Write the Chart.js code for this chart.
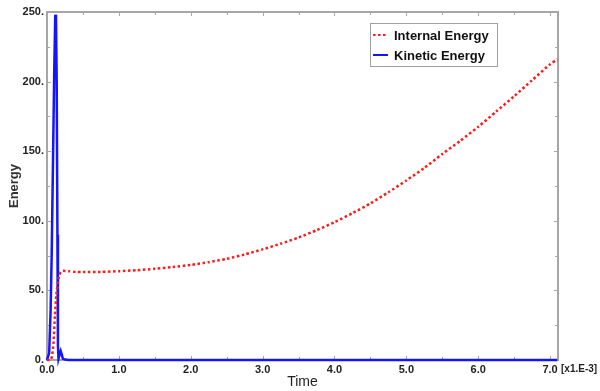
<!DOCTYPE html>
<html>
<head>
<meta charset="utf-8">
<script src="https://cdn.jsdelivr.net/npm/chart.js@4/dist/chart.umd.min.js"></script>
<style>
  html, body { margin: 0; padding: 0; background: #ffffff; }
  #wrap { position: relative; width: 600px; height: 391px; }
</style>
</head>
<body>
<div id="wrap"><canvas id="c" width="600" height="391"></canvas></div>
<script>
// ---- data (time in units of 1e-3) ----
const timeInternal = [0, 0.05, 0.07, 0.09, 0.11, 0.13, 0.15, 0.17, 0.19, 0.22, 0.3, 0.4, 0.5, 0.75, 1.0, 1.25, 1.5, 1.75, 2.0, 2.25, 2.5, 2.75, 3.0, 3.25, 3.5, 3.75, 4.0, 4.25, 4.5, 4.75, 5.0, 5.25, 5.5, 5.75, 6.0, 6.25, 6.5, 6.75, 7.0, 7.1];
const internalEnergy = [0, 0, 3, 12, 32, 47, 55, 61, 63, 64, 63.8, 63.3, 63.2, 63.3, 63.8, 64.5, 65.5, 66.8, 68.3, 70.3, 72.7, 75.8, 79.5, 83.5, 88, 93.2, 99, 105.5, 112.5, 120.5, 129, 138, 148, 157.5, 167.5, 178.5, 189.5, 201, 212.5, 216];
const timeKinetic = [0, 0.01, 0.03, 0.05, 0.065, 0.08, 0.10, 0.115, 0.125, 0.135, 0.145, 0.152, 0.16, 0.175, 0.19, 0.205, 0.22, 0.25, 0.3, 1, 2, 3, 4, 5, 6, 7, 7.1];
const kineticEnergy = [0, 0, 5, 35, 75, 130, 205, 248, 245, 200, 90, 10, 1, 4, 6.5, 4, 1, 0.3, 0, 0, 0, 0, 0, 0, 0, 0, 0];
const xTickLabels = ['0.0', '1.0', '2.0', '3.0', '4.0', '5.0', '6.0', '7.0'];
const yTickLabels = ['0.', '50.', '100.', '150.', '200.', '250.'];
const seriesNames = ['Internal Energy', 'Kinetic Energy'];

const AXIS_GRAY = '#a6a6a6';
const X_MAX = 7.11;

const toPoints = (xs, ys) => xs.map((x, i) => ({ x: x, y: ys[i] }));

const framePlugin = {
  id: 'frame',
  beforeDatasetsDraw(chart) {
    const { ctx, chartArea: a, scales } = chart;
    const xs = scales.x, ys = scales.y;
    ctx.save();
    ctx.strokeStyle = AXIS_GRAY;
    ctx.lineWidth = 1;
    for (let v = 0; v <= 7.0001; v += 0.5) {
      const px = Math.round(xs.getPixelForValue(v)) + 0.5;
      const len = (Math.abs(v - Math.round(v)) < 1e-6) ? 4 : 3;
      ctx.beginPath();
      ctx.moveTo(px, a.bottom); ctx.lineTo(px, a.bottom - len);
      ctx.moveTo(px, a.top); ctx.lineTo(px, a.top + len);
      ctx.stroke();
    }
    for (let v = 0; v <= 250; v += 25) {
      const py = Math.round(ys.getPixelForValue(v)) + 0.5;
      const len = (v % 50 === 0) ? 4 : 3;
      ctx.beginPath();
      ctx.moveTo(a.left, py); ctx.lineTo(a.left + len, py);
      ctx.moveTo(a.right, py); ctx.lineTo(a.right - len, py);
      ctx.stroke();
    }
    ctx.lineWidth = 2;
    ctx.strokeRect(a.left, a.top, a.right - a.left, a.bottom - a.top);
    ctx.restore();
  },
  afterDraw(chart) {
    const { ctx, chartArea: a } = chart;
    ctx.save();
    ctx.fillStyle = '#222';
    ctx.font = 'bold 10px "Liberation Sans", Arial, sans-serif';
    ctx.textBaseline = 'middle';
    ctx.textAlign = 'left';
    ctx.fillText('[x1.E-3]', a.right + 3, a.bottom + 9);
    // legend
    const bx = 370, by = 23, bw = 127, bh = 43;
    ctx.fillStyle = '#ffffff';
    ctx.fillRect(bx, by, bw, bh);
    ctx.strokeStyle = '#a0a0a0';
    ctx.lineWidth = 1;
    ctx.strokeRect(bx + 0.5, by + 0.5, bw, bh);
    const rows = [35, 55];
    chart.data.datasets.forEach((ds, i) => {
      const y = rows[i];
      ctx.beginPath();
      ctx.strokeStyle = ds.borderColor;
      ctx.lineWidth = 2;
      ctx.setLineDash(ds.borderDash || []);
      ctx.moveTo(373, y); ctx.lineTo(388, y);
      ctx.stroke();
      ctx.setLineDash([]);
      ctx.fillStyle = '#111';
      ctx.font = 'bold 13px "Liberation Sans", Arial, sans-serif';
      ctx.textAlign = 'left';
      ctx.textBaseline = 'middle';
      ctx.fillText(ds.label, 394, y + 1);
    });
    ctx.restore();
  }
};

new Chart(document.getElementById('c'), {
  type: 'scatter',
  data: {
    datasets: [
      {
        label: seriesNames[0],
        data: toPoints(timeInternal, internalEnergy),
        showLine: true,
        borderColor: '#ff1a1a',
        backgroundColor: '#ff1a1a',
        borderWidth: 2.5,
        borderDash: [2.5, 2.5],
        pointRadius: 0,
        tension: 0.2,
        clip: false
      },
      {
        label: seriesNames[1],
        data: toPoints(timeKinetic, kineticEnergy),
        showLine: true,
        borderColor: '#1414ff',
        backgroundColor: '#1414ff',
        borderWidth: 2.5,
        pointRadius: 0,
        tension: 0,
        clip: false
      }
    ]
  },
  options: {
    responsive: false,
    animation: false,
    layout: { padding: { top: 12, right: 42, left: 0, bottom: 0 } },
    plugins: { legend: { display: false }, tooltip: { enabled: false } },
    scales: {
      x: {
        type: 'linear',
        min: 0,
        max: X_MAX,
        afterFit(s) { s.height = 31; },
        afterBuildTicks(s) { s.ticks = xTickLabels.map((t, i) => ({ value: i })); },
        grid: { display: false, drawTicks: false },
        border: { display: false },
        ticks: {
          padding: 3,
          color: '#222',
          font: { family: '"Liberation Sans", Arial, sans-serif', size: 11, weight: 'bold' },
          maxRotation: 0,
          callback: (v) => xTickLabels[Math.round(v)] ?? ''
        },
        title: {
          display: true,
          text: 'Time',
          color: '#222',
          font: { family: '"Liberation Sans", Arial, sans-serif', size: 14 },
          padding: { top: 0, bottom: 0 }
        }
      },
      y: {
        type: 'linear',
        min: 0,
        max: 250,
        afterFit(s) { s.width = 47; },
        afterBuildTicks(s) { s.ticks = yTickLabels.map((t, i) => ({ value: i * 50 })); },
        grid: { display: false, drawTicks: false },
        border: { display: false },
        ticks: {
          padding: 3,
          color: '#222',
          font: { family: '"Liberation Sans", Arial, sans-serif', size: 11, weight: 'bold' },
          callback: (v) => yTickLabels[Math.round(v / 50)] ?? ''
        },
        title: {
          display: true,
          text: 'Energy',
          color: '#333',
          font: { family: '"Liberation Sans", Arial, sans-serif', size: 13, weight: 'bold' },
          padding: { top: 7, bottom: 0 }
        }
      }
    }
  },
  plugins: [framePlugin]
});
</script>
</body>
</html>
